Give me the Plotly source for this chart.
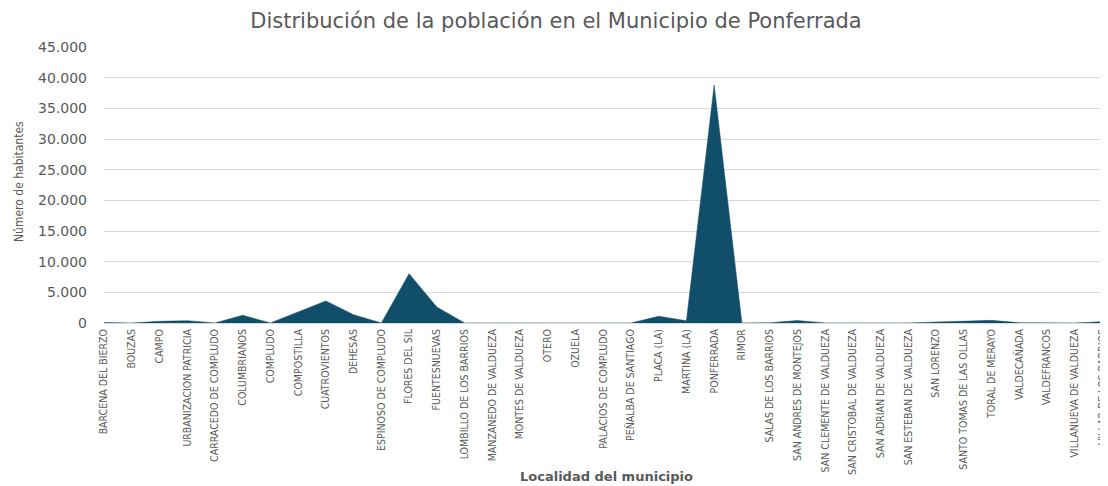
import plotly.graph_objects as go

localidades = [
    "BARCENA DEL BIERZO", "BOUZAS", "CAMPO", "URBANIZACION PATRICIA",
    "CARRACEDO DE COMPLUDO", "COLUMBRIANOS", "COMPLUDO", "COMPOSTILLA",
    "CUATROVIENTOS", "DEHESAS", "ESPINOSO DE COMPLUDO", "FLORES DEL SIL",
    "FUENTESNUEVAS", "LOMBILLO DE LOS BARRIOS", "MANZANEDO DE VALDUEZA",
    "MONTES DE VALDUEZA", "OTERO", "OZUELA", "PALACIOS DE COMPLUDO",
    "PEÑALBA DE SANTIAGO", "PLACA (LA)", "MARTINA (LA)", "PONFERRADA", "RIMOR",
    "SALAS DE LOS BARRIOS", "SAN ANDRES DE MONTEJOS", "SAN CLEMENTE DE VALDUEZA",
    "SAN CRISTOBAL DE VALDUEZA", "SAN ADRIAN DE VALDUEZA", "SAN ESTEBAN DE VALDUEZA",
    "SAN LORENZO", "SANTO TOMAS DE LAS OLLAS", "TORAL DE MERAYO", "VALDECAÑADA",
    "VALDEFRANCOS", "VILLANUEVA DE VALDUEZA", "VILLAR DE LOS BARRIOS",
]
habitantes = [
    100, 0, 270, 380,
    20, 1250, 20, 1800,
    3600, 1350, 20, 8050,
    2600, 20, 10,
    10, 10, 10, 10,
    10, 1100, 360, 38800, 20,
    30, 400, 20,
    10, 10, 20,
    150, 250, 430, 50,
    10, 20, 200,
]
y_ticks = [0, 5000, 10000, 15000, 20000, 25000, 30000, 35000, 40000, 45000]

titulo = "Distribución de la población en el Municipio de Ponferrada"
titulo_x = "Localidad del municipio"
titulo_y = "Número de habitantes"

TXT = "#595959"
FILL = "#114E69"
GRID = "#D9D9D9"
NARROW = "DejaVu Sans Condensed, DejaVu Sans, sans-serif"

x_idx = list(range(len(localidades)))

W, H = 1100, 478  # page body keeps an 8px margin

fig = go.Figure()
fig.add_trace(go.Scatter(
    x=x_idx, y=habitantes, mode="lines", fill="tozeroy",
    fillcolor=FILL, line=dict(color=FILL, width=0.5), showlegend=False,
    hoverinfo="skip",
))

fig.update_layout(
    width=W, height=H,
    margin=dict(l=96, r=0, t=39, b=163, autoexpand=False),
    paper_bgcolor="white", plot_bgcolor="white",
    separators=",.",
    title=dict(text=titulo, x=548 / W, xanchor="center", y=1 - 13 / H, yanchor="middle",
               font=dict(family="DejaVu Sans", size=21, color=TXT)),
    xaxis=dict(
        range=[0, 36.2], tickmode="array", tickvals=x_idx, ticktext=localidades,
        tickangle=-90, showgrid=False, zeroline=False, showline=False,
        tickfont=dict(family=NARROW, size=10.5, color=TXT),
        ticks="", ticklabelstandoff=3, ticklabeloverflow="allow", automargin=False,
        fixedrange=True,
    ),
    yaxis=dict(
        range=[0, 45000], tickmode="array", tickvals=y_ticks, tickformat=",d",
        showgrid=True, gridcolor=GRID, gridwidth=1, zeroline=True, zerolinecolor=GRID,
        zerolinewidth=1, showline=False, ticks="", ticklabelstandoff=16, automargin=False,
        tickfont=dict(family="DejaVu Sans", size=14, color=TXT),
    ),
    annotations=[
        dict(text=titulo_x, xref="paper", yref="paper", x=0.5, y=0, xanchor="center",
             yanchor="top", yshift=-144, showarrow=False,
             font=dict(family="DejaVu Sans", size=13, color=TXT, weight="bold")),
        dict(text=titulo_y, xref="paper", yref="paper", x=0, y=0.5, xanchor="center",
             yanchor="middle", xshift=-85, yshift=3, textangle=-90, showarrow=False,
             font=dict(family=NARROW, size=12, color=TXT)),
    ],
)

fig.write_html("out.html")
